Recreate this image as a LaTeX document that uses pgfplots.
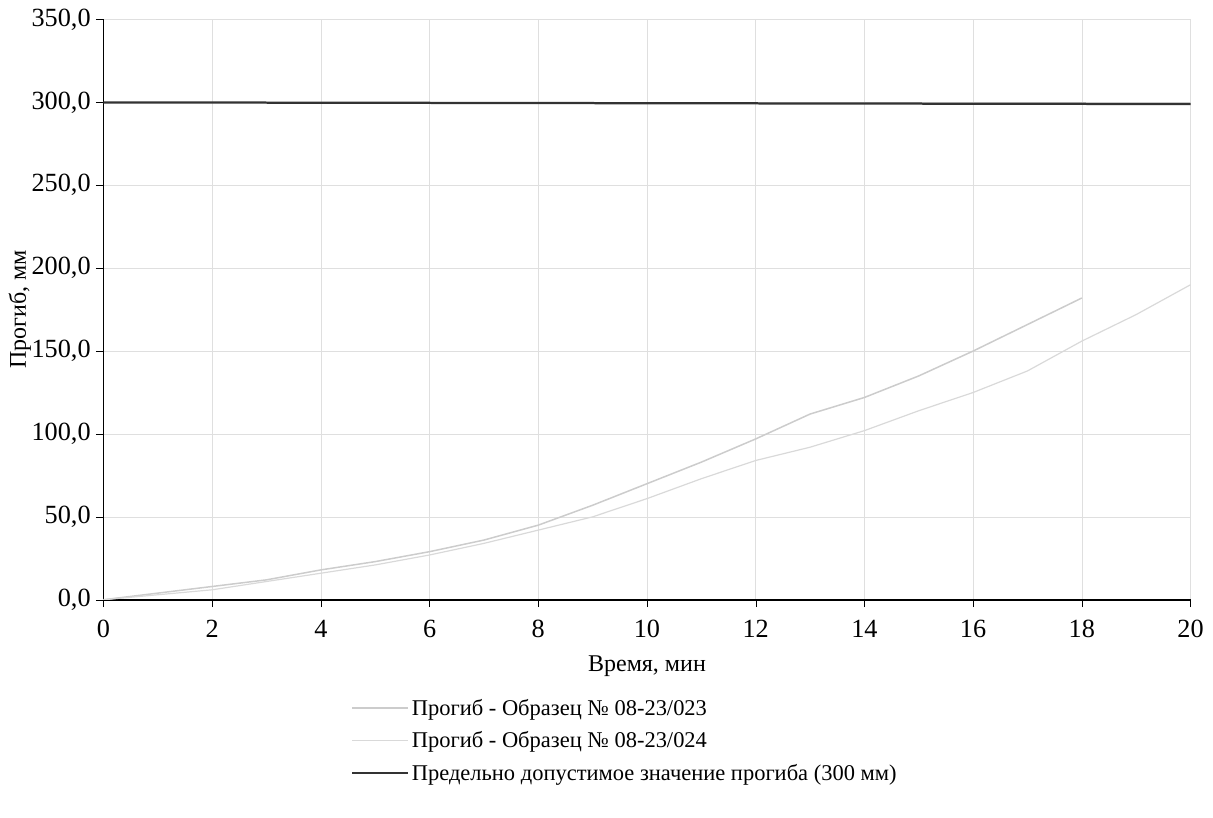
\documentclass[border=0pt]{standalone}
\usepackage{pgfplots}
\pgfplotsset{compat=1.18}
\usepackage{fontspec}
\setmainfont{Liberation Serif}
\begin{document}
\begin{tikzpicture}
\begin{axis}[
  at={(0,0)}, anchor=south west,
  scale only axis, width=725pt, height=387pt,
  xmin=0, xmax=20, ymin=0, ymax=350,
  xtick={0,2,...,20}, ytick={0,50,...,350},
  /pgf/number format/assume math mode=true,
  yticklabel={\pgfmathprintnumber[fixed,fixed zerofill,precision=1,use comma]{\tick}},
  grid=major, grid style={gray!25},
  axis x line*=bottom, axis y line*=left,
  axis line style={black, line width=1.2pt},
  tick style={black}, major tick length=5pt, tick align=outside,
  tick label style={font=\fontsize{17.5}{20}\selectfont},
  xticklabel style={yshift=-5pt},
  xlabel={Время, мин}, ylabel={Прогиб, мм},
  label style={font=\fontsize{16}{18}\selectfont},
  xlabel style={at={(axis description cs:0.5,0)}, anchor=center, yshift=-44pt},
  ylabel style={at={(axis description cs:-0.077,0.5)}, anchor=center},
  legend style={at={(165pt,-64pt)}, anchor=north west, draw=none,
    font=\fontsize{15}{17}\selectfont, row sep=5.5pt, legend cell align=left, inner sep=0pt},
  legend image code/.code={\draw[#1] (0cm,0cm) -- (1.3cm,0cm);},
]
\addplot[gray!40, line width=1pt] coordinates {(0,0)(1,4)(2,8)(3,12)(4,18)(5,23)(6,29)(7,36)(8,45)(9,57)(10,70)(11,83)(12,97)(13,112)(14,122)(15,135)(16,150)(17,166)(18,182)};
\addlegendentry{Прогиб - Образец № 08-23/023}
\addplot[gray!30, line width=0.8pt] coordinates {(0,0)(1,3)(2,6)(3,11)(4,16)(5,21)(6,27)(7,34)(8,42)(9,50)(10,61)(11,73)(12,84)(13,92)(14,102)(15,114)(16,125)(17,138)(18,156)(19,172)(20,190)};
\addlegendentry{Прогиб - Образец № 08-23/024}
\addplot[black!80, line width=1.5pt] coordinates {(0,300)(20,299)};
\addlegendentry{Предельно допустимое значение прогиба (300 мм)}
\end{axis}
\pgfresetboundingbox
\useasboundingbox (-69pt,-145pt) rectangle (740pt,400pt);
\end{tikzpicture}
\end{document}
